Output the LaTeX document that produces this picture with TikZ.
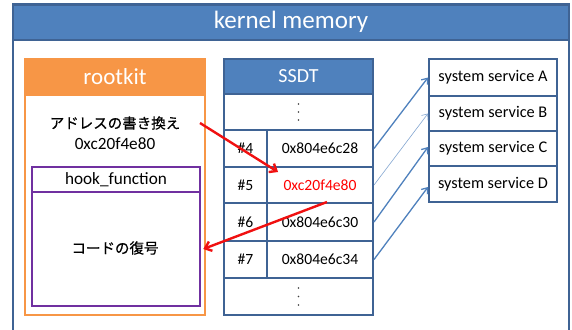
\documentclass[tikz,border=0pt]{standalone}
\usepackage{fontspec}
\setmainfont{Carlito}
\newfontfamily\jp{Noto Sans CJK JP}[FakeBold=0.6]
\usetikzlibrary{arrows.meta}
\definecolor{hdrblue}{HTML}{4F81BD}
\definecolor{bordblue}{HTML}{3F6394}
\definecolor{korange}{HTML}{F79646}
\definecolor{kpurple}{HTML}{7030A0}
\definecolor{kred}{HTML}{F01010}
\begin{document}
\begin{tikzpicture}[x=1pt,y=-1pt,
  cell/.style={draw=bordblue,line width=2pt,fill=white,inner sep=0pt,font=\fontsize{15.6}{17}\selectfont},
  svc/.style={cell,font=\fontsize{16.3}{18}\selectfont},
  hdr/.style={draw=bordblue,line width=2pt,fill=hdrblue,text=white,inner sep=0pt},
  redarrow/.style={draw=kred,line width=2.4pt,-{Straight Barb[length=6pt,width=10pt]}},
  bluearrow/.style={draw=hdrblue,line width=1.3pt,-{Straight Barb[length=5pt,width=8pt]}},
  body/.style={font=\fontsize{17.2}{19}\selectfont},
  jbody/.style={font=\fontsize{14.5}{16}\selectfont},
  vdot/.style={fill=black!75}
]
\useasboundingbox (0,0) rectangle (572,329);
\fill[white] (0,0) rectangle (572,329);
% outer kernel memory box
\draw[bordblue,line width=2.4pt,fill=white] (13,4.5) rectangle (569,345);
\node[hdr,minimum width=556pt,minimum height=35.5pt,font=\fontsize{25}{28}\selectfont] (km) at (291,22.3) {kernel memory};

% rootkit box
\node[draw=korange,line width=2.6pt,fill=white,minimum width=180pt,minimum height=256pt,inner sep=0pt] (rk) at (115,187) {};
\node[fill=korange,draw=korange,line width=2.6pt,minimum width=180pt,minimum height=36pt,inner sep=0pt,text=white,font=\fontsize{23}{26}\selectfont] (rkh) at (115,77) {rootkit};
\node[jbody,align=center,inner sep=0pt] (rewrite) at (115,123) {\jp アドレスの書き換え};
\node[body,inner sep=0pt] (addr) at (115,144) {0xc20f4e80};
\node[draw=kpurple,line width=2.6pt,minimum width=168pt,minimum height=25pt,inner sep=0pt,body] (hookh) at (116,179.5) {hook\_function};
\node[draw=kpurple,line width=2.6pt,minimum width=168pt,minimum height=114pt,inner sep=0pt] (hook) at (116,249) {};
\node[jbody,inner sep=0pt] (decode) at (115,248) {\jp コードの復号};

% SSDT table
\node[hdr,minimum width=149pt,minimum height=35pt,font=\fontsize{20}{22}\selectfont] (ssdt) at (298.5,76.5) {SSDT};
\node[cell,minimum width=149pt,minimum height=36pt] (dtop) at (298.5,112) {};
\foreach \yy in {104,112,120} \fill[vdot] (298.5,\yy) circle (0.9pt);
\node[cell,minimum width=43pt,minimum height=37pt] (n4) at (245.5,148.5) {\#4};
\node[cell,minimum width=106pt,minimum height=37pt] (v4) at (320,148.5) {0x804e6c28};
\node[cell,minimum width=43pt,minimum height=36pt] (n5) at (245.5,185) {\#5};
\node[cell,minimum width=106pt,minimum height=36pt,text=red] (v5) at (320,185) {0xc20f4e80};
\node[cell,minimum width=43pt,minimum height=38pt] (n6) at (245.5,222) {\#6};
\node[cell,minimum width=106pt,minimum height=38pt] (v6) at (320,222) {0x804e6c30};
\node[cell,minimum width=43pt,minimum height=37pt] (n7) at (245.5,259.5) {\#7};
\node[cell,minimum width=106pt,minimum height=37pt] (v7) at (320,259.5) {0x804e6c34};
\node[cell,minimum width=149pt,minimum height=37pt] (dbot) at (298.5,296.5) {};
\foreach \yy in {288,296.5,305} \fill[vdot] (298.5,\yy) circle (0.9pt);

% system services
\node[svc,minimum width=128pt,minimum height=37pt] (sA) at (493,77.5) {system service A};
\node[svc,minimum width=128pt,minimum height=35pt] (sB) at (493,113.5) {system service B};
\node[svc,minimum width=128pt,minimum height=35pt] (sC) at (493,148.5) {system service C};
\node[svc,minimum width=128pt,minimum height=36pt] (sD) at (493,184) {system service D};

% blue connectors
\draw[bluearrow] (v4.east) -- (sA.west);
\draw[bluearrow,line width=0.6pt,draw=hdrblue!70] (v5.east) -- (sB.west);
\draw[bluearrow] (v6.east) -- ([yshift=1.5pt]sC.west);
\draw[bluearrow] (v7.east) -- ([yshift=-3pt]sD.west);

% red connectors
\coordinate (r1s) at (200,123);
\coordinate (r1e) at (278,172);
\draw[redarrow] (r1s) -- (r1e);
\coordinate (r2s) at (327,202);
\draw[redarrow] (r2s) -- ([xshift=2pt]hook.east);
\end{tikzpicture}
\end{document}
